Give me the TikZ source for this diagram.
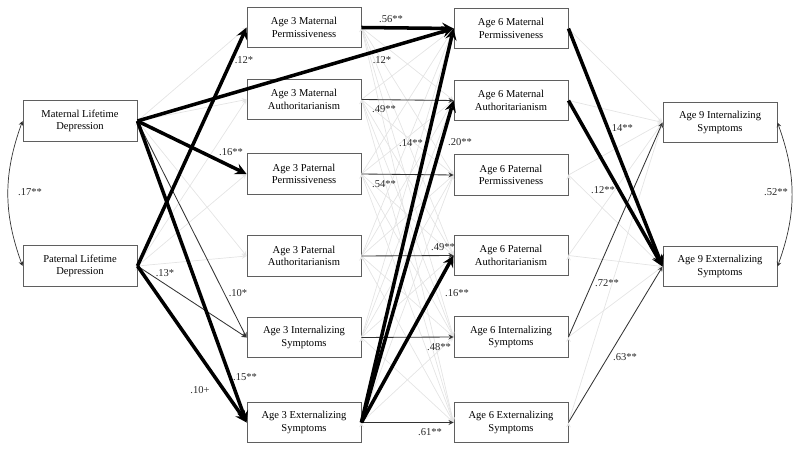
\documentclass[tikz,border=0pt]{standalone}
\usepackage{fontspec}
\setmainfont{Liberation Serif}
\usepackage{tikz}
\usetikzlibrary{arrows}
\usepackage{xcolor}
\definecolor{pathgray}{RGB}{228,228,228}
\definecolor{boxline}{RGB}{95,95,95}
\definecolor{coefgray}{RGB}{40,40,40}
\tikzstyle{varbox} = [rectangle, minimum width=2.85cm, minimum height=1.02cm, text centered, align=center, draw=boxline, line width=0.6pt, font=\fontsize{7.5}{9}\selectfont]
\tikzstyle{boldpath} = [line width=2.5pt,->,>=stealth,color=black]
\tikzstyle{thinpath} = [line width=0.6pt,->,>=stealth,color=black!80]
\tikzstyle{nspath} = [line width=0.5pt,->,>=stealth,color=pathgray]
\tikzstyle{covpath} = [line width=0.5pt,<->,>=stealth,color=black!80]
\tikzstyle{coef} = [font=\fontsize{7.5}{8}\selectfont, text=coefgray, inner sep=1pt]

\begin{document}
\begin{tikzpicture}[x=0.025cm, y=-0.025cm]
\useasboundingbox (0,0) rectangle (800,452);
% Parental depression
\node[varbox] (mat_dep) at (80,121) {Maternal  Lifetime\\Depression};
\node[varbox] (pat_dep) at (80,266) {Paternal  Lifetime\\Depression};

% Age 3
\node[varbox] (a3_mperm) at (304,27.5) {Age  3 Maternal\\Permissiveness};
\node[varbox] (a3_mauth) at (304,99.5) {Age  3 Maternal\\Authoritarianism};
\node[varbox] (a3_pperm) at (304,174) {Age  3 Paternal\\Permissiveness};
\node[varbox] (a3_pauth) at (304,256) {Age  3 Paternal\\Authoritarianism};
\node[varbox] (a3_int) at (304,337.5) {Age  3 Internalizing\\Symptoms};
\node[varbox] (a3_ext) at (304,422.5) {Age  3 Externalizing\\Symptoms};

% Age 6
\node[varbox] (a6_mperm) at (511,28.5) {Age  6 Maternal\\Permissiveness};
\node[varbox] (a6_mauth) at (511,100.5) {Age  6 Maternal\\Authoritarianism};
\node[varbox] (a6_pperm) at (511,175) {Age  6 Paternal\\Permissiveness};
\node[varbox] (a6_pauth) at (511,255.5) {Age  6 Paternal\\Authoritarianism};
\node[varbox] (a6_int) at (511,337) {Age  6 Internalizing\\Symptoms};
\node[varbox] (a6_ext) at (511,422.5) {Age  6 Externalizing\\Symptoms};

% Age 9
\node[varbox] (a9_int) at (720,122.5) {Age  9 Internalizing\\Symptoms};
\node[varbox] (a9_ext) at (720,266.5) {Age  9 Externalizing\\Symptoms};

% non-significant paths
\draw[nspath] (mat_dep.east) edge (a3_mperm.west) edge (a3_mauth.west) edge (a3_pauth.west);
\draw[nspath] (pat_dep.east) edge (a3_mauth.west) edge (a3_pperm.west) edge (a3_pauth.west);
\draw[nspath] (a3_mperm.east) edge (a6_mauth.west) edge (a6_pperm.west) edge (a6_pauth.west) edge (a6_int.west) edge (a6_ext.west);
\draw[nspath] (a3_mauth.east) edge (a6_mperm.west) edge (a6_pperm.west) edge (a6_pauth.west) edge (a6_int.west) edge (a6_ext.west);
\draw[nspath] (a3_pperm.east) edge (a6_mperm.west) edge (a6_mauth.west) edge (a6_pauth.west) edge (a6_int.west) edge (a6_ext.west);
\draw[nspath] (a3_pauth.east) edge (a6_mperm.west) edge (a6_mauth.west) edge (a6_pperm.west) edge (a6_int.west) edge (a6_ext.west);
\draw[nspath] (a3_int.east) edge (a6_mperm.west) edge (a6_mauth.west) edge (a6_pperm.west) edge (a6_pauth.west) edge (a6_ext.west);
\draw[nspath] (a3_ext.east) edge (a6_pperm.west) edge (a6_int.west);
\draw[nspath] (a6_mperm.east) edge (a9_int.west);
\draw[nspath] (a6_mauth.east) edge (a9_int.west);
\draw[nspath] (a6_pperm.east) edge (a9_int.west) edge (a9_ext.west);
\draw[nspath] (a6_pauth.east) edge (a9_int.west) edge (a9_ext.west);
\draw[nspath] (a6_int.east) edge (a9_ext.west);
\draw[nspath] (a6_ext.east) edge (a9_int.west);

% significant paths
\draw[thinpath] (mat_dep.east) -- (a3_int.west);
\draw[thinpath] (pat_dep.east) -- (a3_int.west);
\draw[thinpath] (a3_mauth.east) -- (a6_mauth.west);
\draw[thinpath] (a3_pperm.east) -- (a6_pperm.west);
\draw[thinpath] (a3_pauth.east) -- (a6_pauth.west);
\draw[thinpath] (a3_int.east) -- (a6_int.west);
\draw[thinpath] (a3_ext.east) -- (a6_ext.west);
\draw[thinpath] (a6_int.east) -- (a9_int.west);
\draw[thinpath] (a6_ext.east) -- (a9_ext.west);

\draw[boldpath] (mat_dep.east) -- (a3_pperm.west);
\draw[boldpath] (mat_dep.east) -- (a3_ext.west);
\draw[boldpath] (mat_dep.east) -- (a6_mperm.west);
\draw[boldpath] (pat_dep.east) -- (a3_mperm.west);
\draw[boldpath] (pat_dep.east) -- (a3_ext.west);
\draw[boldpath] (a3_mperm.east) -- (a6_mperm.west);
\draw[boldpath] (a3_ext.east) -- (a6_mperm.west);
\draw[boldpath] (a3_ext.east) -- (a6_mauth.west);
\draw[boldpath] (a3_ext.east) -- (a6_pauth.west);
\draw[boldpath] (a6_mperm.east) -- (a9_ext.west);
\draw[boldpath] (a6_mauth.east) -- (a9_ext.west);

% correlations
\draw[covpath] (mat_dep.west) to[bend right=20] (pat_dep.west);
\draw[covpath] (a9_int.east) to[bend left=20] (a9_ext.east);

% coefficients
\node[coef] (c_md_pd) at (30,192) {.17**};
\node[coef] (c_a9) at (776,192) {.52**};
\node[coef] (c_pd_a3mp) at (244,60) {.12*};
\node[coef] (c_md_a6mp) at (382,60) {.12*};
\node[coef] (c_a3mp) at (391,19) {.56**};
\node[coef] (c_a3ma) at (384,109) {.49**};
\node[coef] (c_md_a3pp) at (231,152) {.16**};
\node[coef] (c_a3e_a6mp) at (411,143) {.14**};
\node[coef] (c_a3e_a6ma) at (460,142) {.20**};
\node[coef] (c_a3pp) at (384,184) {.54**};
\node[coef] (c_a3pa) at (443,247) {.49**};
\node[coef] (c_a3e_a6pa) at (457,293) {.16**};
\node[coef] (c_a3i) at (439,347) {.48**};
\node[coef] (c_a3e) at (430,432) {.61**};
\node[coef] (c_pd_a3i) at (165,273) {.13*};
\node[coef] (c_md_a3i) at (238,293) {.10*};
\node[coef] (c_md_a3e) at (245,377) {.15**};
\node[coef] (c_pd_a3e) at (200,390) {.10+};
\node[coef] (c_a6mp_a9e) at (621,128) {.14**};
\node[coef] (c_a6ma_a9e) at (603,190) {.12**};
\node[coef] (c_a6i) at (607,283) {.72**};
\node[coef] (c_a6e) at (625,357) {.63**};
\end{tikzpicture}
\end{document}
